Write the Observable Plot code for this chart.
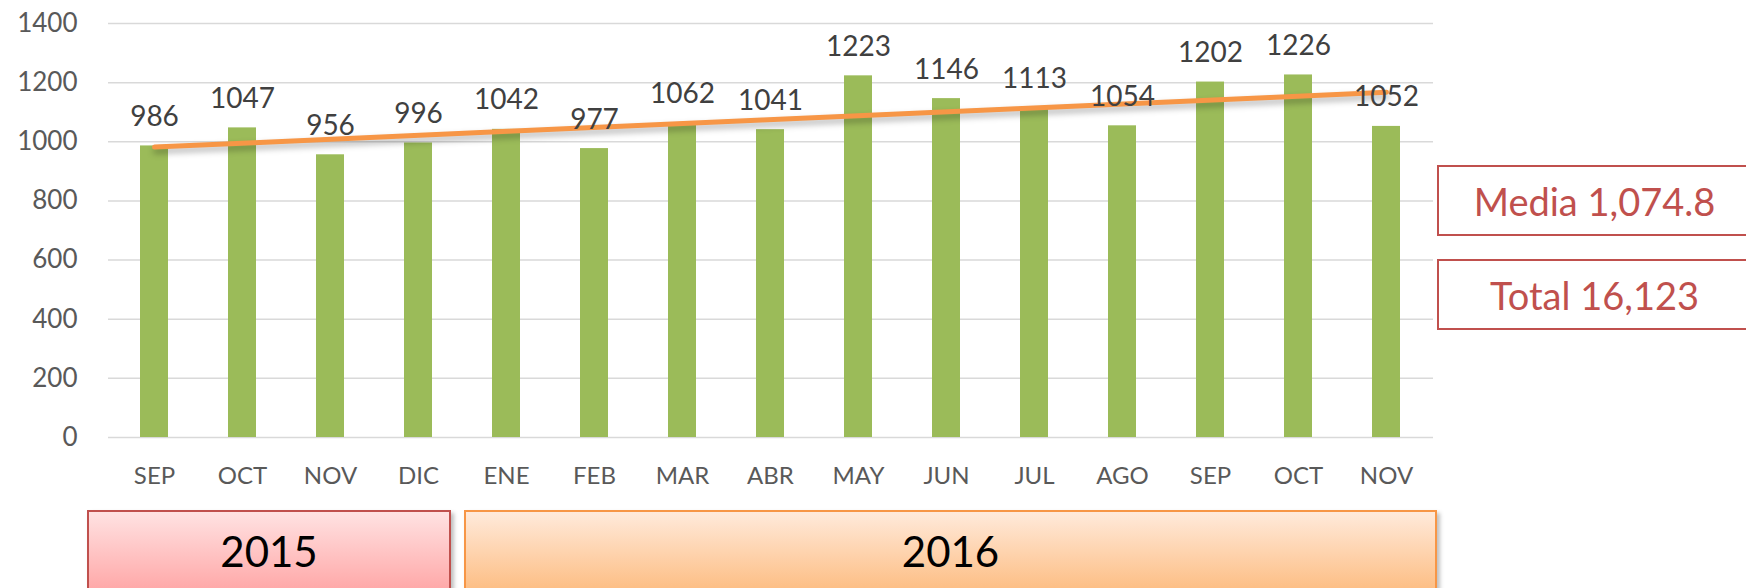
<!DOCTYPE html>
<html><head><meta charset="utf-8">
<script src="https://cdn.jsdelivr.net/npm/d3@7"></script>
<script src="https://cdn.jsdelivr.net/npm/@observablehq/plot@0.6"></script>
<style>
html,body{margin:0;padding:0;background:#fff;overflow:hidden;}
#wrap{position:relative;width:1746px;height:588px;font-family:Lato,sans-serif;overflow:hidden;}
#chart{position:absolute;left:0;top:0;}
.box{position:absolute;box-sizing:border-box;display:flex;align-items:center;justify-content:center;}
.year{border-width:2px;border-style:solid;color:#000;font-size:42px;box-shadow:3px 3px 4px rgba(0,0,0,0.25);}
.stat{border:2px solid #C0504D;color:#C0504D;font-size:38px;background:#fff;}
#chart g[aria-label="line"] path{filter:drop-shadow(1px 4px 3px rgba(0,0,0,0.3));}
</style></head><body>
<div id="wrap"><div id="chart"></div></div>
<script>
const months = ["SEP","OCT","NOV","DIC","ENE","FEB","MAR","ABR","MAY","JUN","JUL","AGO","SEP","OCT","NOV"];
const values = [986,1047,956,996,1042,977,1062,1041,1223,1146,1113,1054,1202,1226,1052];
const yTicks = [0,200,400,600,800,1000,1200,1400];
const years = ["2015","2016"];
const stats = ["Media 1,074.8","Total 16,123"];

const data = values.map((v,i)=>({i, month: months[i], value: v}));
const n = values.length;
const mx = d3.mean(data, d=>d.i), my = d3.mean(values);
const slope = d3.sum(data, d=>(d.i-mx)*(d.value-my)) / d3.sum(data, d=>(d.i-mx)**2);
const trend = [0, n-1].map(i => ({i, value: my + slope*(i-mx)}));

const chart = Plot.plot({
  width:1746, height:588,
  marginLeft:108, marginRight:313, marginTop:23, marginBottom:151,
  style:{fontFamily:"Lato, sans-serif", background:"transparent", overflow:"visible"},
  x:{type:"band", domain:d3.range(n), paddingInner:0.68, paddingOuter:0.34, label:null},
  y:{domain:[0,1400], label:null},
  marks:[
    Plot.gridY(yTicks,{stroke:"#d9d9d9", strokeOpacity:1, strokeWidth:1.5}),
    Plot.axisY(yTicks,{tickSize:0, tickPadding:31, fontSize:26, fill:"#595959", tickFormat:d=>String(d), label:null}),
    Plot.axisX({tickSize:0, tickPadding:29, fontSize:24, fill:"#595959", tickFormat:i=>months[i], label:null}),
    Plot.barY(data,{x:"i", y:"value", fill:"#9BBB59"}),
    Plot.line(trend,{x:"i", y:"value", stroke:"#F79646", strokeWidth:5}),
    Plot.text(data,{x:"i", y:"value", text:d=>String(d.value), dy:-20, lineAnchor:"bottom", fontSize:28, fill:"#404040"})
  ]
});
document.getElementById("chart").appendChild(chart);

const wrap = document.getElementById("wrap");
function addBox(cls, text, left, top, width, height, extra){
  const b = document.createElement("div");
  b.className = "box " + cls;
  b.textContent = text;
  Object.assign(b.style, {left:left+"px", top:top+"px", width:width+"px", height:height+"px"}, extra||{});
  wrap.appendChild(b);
}
addBox("year", years[0], 87, 510, 364, 82, {borderColor:"#C0504D", background:"linear-gradient(#FFE2E2,#FFA8A8)"});
addBox("year", years[1], 464, 510, 973, 82, {borderColor:"#F79646", background:"linear-gradient(#FFEADB,#FDBE84)"});
addBox("stat", stats[0], 1437, 165, 315, 71);
addBox("stat", stats[1], 1437, 259, 315, 71);
</script>
</body></html>
